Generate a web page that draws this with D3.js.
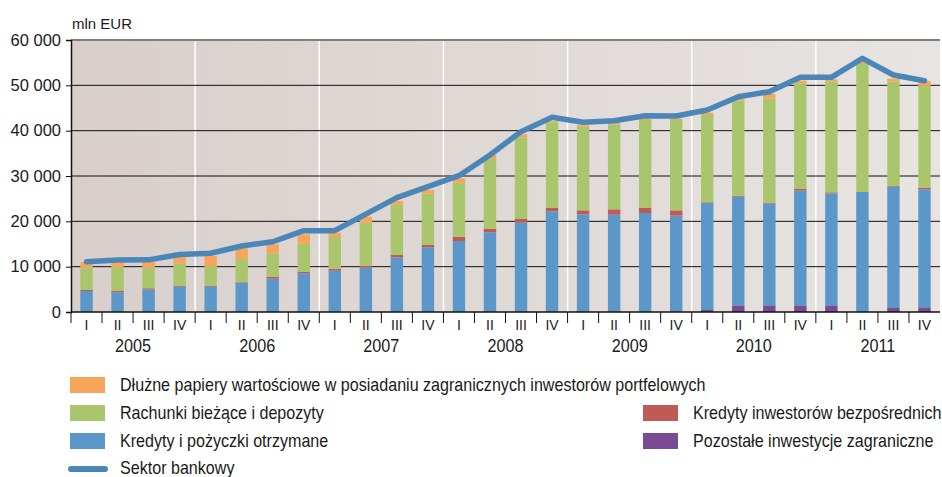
<!DOCTYPE html>
<html>
<head>
<meta charset="utf-8">
<script src="https://cdn.jsdelivr.net/npm/d3@7"></script>
<style>
  body { margin: 0; background: #fff; }
  text { font-family: "Liberation Sans", Arial, sans-serif; fill: #1a1a1a; }
</style>
</head>
<body>
<div class="canvas"></div>
<script>
const years = ['2005', '2006', '2007', '2008', '2009', '2010', '2011'];
const quarters = ['I', 'II', 'III', 'IV'];
const yTicks = [0, 10000, 20000, 30000, 40000, 50000, 60000];

// mln EUR, 2005 I .. 2011 IV
const pozostale = [0, 0, 0, 0, 0, 0, 0, 0, 0, 0, 0, 0, 0, 0, 0, 0, 0, 0, 0, 0,
  440, 1470, 1470, 1470, 1470, 0, 880, 880];
const kredytyPozyczki = [4630, 4340, 5000, 5590, 5590, 6400, 7350, 8540, 9110, 9780, 12060, 14270,
  15660, 17580, 19700, 22210, 21550, 21470, 21840, 21250, 23610, 23970, 22430, 25300, 24700, 26470, 26770, 26180];
const kredytyInwestorow = [220, 290, 230, 210, 210, 150, 440, 360, 440, 440, 510, 510,
  890, 800, 820, 800, 880, 1180, 1170, 1180, 150, 220, 220, 360, 230, 0, 150, 370];
const rachunki = [4930, 5150, 4550, 4940, 4350, 5150, 5160, 6170, 7000, 9480, 11100, 11320,
  11970, 15370, 17930, 18840, 18450, 18750, 19340, 19920, 19260, 20950, 22940, 23320, 24420, 28230, 23020, 22430];
const dluzne = [1220, 1320, 1320, 1460, 2200, 2350, 1980, 2070, 940, 1330, 820, 810,
  970, 880, 750, 250, 370, 370, 250, 300, 510, 380, 1030, 590, 510, 450, 660, 1110];
const sektorBankowy = [11100, 11450, 11500, 12700, 12950, 14560, 15500, 17940, 17940, 21600, 25220, 27650,
  30070, 34640, 39780, 42950, 41840, 42200, 43300, 43240, 44560, 47500, 48600, 51770, 51770, 55960, 52280, 51000];

const seriesNames = ['Pozostałe inwestycje zagraniczne', 'Kredyty i pożyczki otrzymane',
  'Kredyty inwestorów bezpośrednich', 'Rachunki bieżące i depozyty',
  'Dłużne papiery wartościowe w posiadaniu zagranicznych inwestorów portfelowych'];
const seriesValues = [pozostale, kredytyPozyczki, kredytyInwestorow, rachunki, dluzne];
const colors = ['#7a4a93', '#5b97c9', '#be5b56', '#aac66d', '#f7a55a'];
const lineName = 'Sektor bankowy';
const lineColor = '#4a86b8';

const periods = [];
years.forEach(y => quarters.forEach(q => periods.push(y + ' ' + q)));

const table = periods.map((p, i) => {
  const row = {period: p};
  seriesNames.forEach((n, k) => row[n] = seriesValues[k][i]);
  return row;
});

const width = 942, height = 477;
const margin = {top: 40, right: 2, bottom: 165, left: 71};
const plotW = width - margin.left - margin.right;
const plotH = height - margin.top - margin.bottom;

const svg = d3.select('.canvas')
  .append('svg')
  .attr('width', width)
  .attr('height', height);

const defs = svg.append('defs');
const grad = defs.append('linearGradient').attr('id', 'bg').attr('x1', 0).attr('x2', 1).attr('y1', 0).attr('y2', 0);
grad.append('stop').attr('offset', 0).attr('stop-color', '#d8cfcb');
grad.append('stop').attr('offset', 1).attr('stop-color', '#e7e4e2');

const g = svg.append('g').attr('transform', `translate(${margin.left},${margin.top})`);

const x = d3.scaleBand()
  .domain(periods)
  .range([0, plotW])
  .paddingInner(0.6)
  .paddingOuter(0.3);

const y = d3.scaleLinear()
  .domain([0, 60000])
  .range([plotH, 0]);

const step = x.step();
const bandLeft = p => x(p) - x.paddingInner() * step / 2;

g.append('rect')
  .attr('width', plotW)
  .attr('height', plotH)
  .attr('fill', 'url(#bg)');

// year separators
g.selectAll('.sep')
  .data(years.slice(1))
  .enter()
  .append('line')
  .attr('x1', d => bandLeft(d + ' I'))
  .attr('x2', d => bandLeft(d + ' I'))
  .attr('y1', 0)
  .attr('y2', plotH)
  .attr('stroke', '#fff')
  .attr('stroke-width', 1.5);

// gridlines
g.selectAll('.grid')
  .data(yTicks.slice(1, -1))
  .enter()
  .append('line')
  .attr('x1', 0)
  .attr('x2', plotW)
  .attr('y1', d => y(d))
  .attr('y2', d => y(d))
  .attr('stroke', '#111')
  .attr('stroke-width', 1);

g.append('line')
  .attr('x1', 0).attr('x2', plotW)
  .attr('y1', y(60000)).attr('y2', y(60000))
  .attr('stroke', '#7f7f7f').attr('stroke-width', 2);

const stacked = d3.stack().keys(seriesNames)(table);

g.selectAll('.layer')
  .data(stacked)
  .enter()
  .append('g')
  .attr('fill', (d, i) => colors[i])
  .selectAll('rect')
  .data(d => d)
  .enter()
  .append('rect')
  .attr('x', d => x(d.data.period))
  .attr('width', x.bandwidth())
  .attr('y', d => y(d[1]))
  .attr('height', d => y(d[0]) - y(d[1]));

const line = d3.line()
  .x((d, i) => x(periods[i]) + x.bandwidth() / 2)
  .y(d => y(d));

g.append('path')
  .datum(sektorBankowy)
  .attr('d', line)
  .attr('fill', 'none')
  .attr('stroke', lineColor)
  .attr('stroke-width', 5.5)
  .attr('stroke-linejoin', 'round')
  .attr('stroke-linecap', 'round');

// y axis
const yAxis = g.append('g')
  .call(d3.axisLeft(y).tickValues(yTicks).tickSize(5).tickPadding(5)
    .tickFormat(d => d3.format(',')(d).replace(/,/g, ' ')));
yAxis.select('.domain').attr('stroke', '#111').attr('stroke-width', 1.5);
yAxis.selectAll('.tick line').attr('stroke', '#111');
yAxis.selectAll('text')
  .style('font-family', '"Liberation Sans", Arial, sans-serif')
  .style('font-size', '16.5px')
  .attr('fill', '#1a1a1a');

// x axis baseline and ticks between quarters
g.append('line')
  .attr('x1', 0).attr('x2', plotW)
  .attr('y1', plotH).attr('y2', plotH)
  .attr('stroke', '#111').attr('stroke-width', 1.5);

g.selectAll('.qtick')
  .data(periods)
  .enter()
  .append('line')
  .attr('x1', d => bandLeft(d))
  .attr('x2', d => bandLeft(d))
  .attr('y1', plotH)
  .attr('y2', plotH + 11)
  .attr('stroke', '#111')
  .attr('stroke-width', 1);

g.selectAll('.qlabel')
  .data(periods)
  .enter()
  .append('text')
  .attr('x', d => x(d) + x.bandwidth() / 2)
  .attr('y', plotH + 18)
  .attr('text-anchor', 'middle')
  .style('font-size', '14px')
  .text(d => d.split(' ')[1]);

g.selectAll('.ylabel')
  .data(years)
  .enter()
  .append('text')
  .attr('transform', d => `translate(${(bandLeft(d + ' I') + bandLeft(d + ' IV') + step) / 2},${plotH + 40}) scale(0.9,1)`)
  .attr('text-anchor', 'middle')
  .style('font-size', '18px')
  .text(d => d);

svg.append('text')
  .attr('x', 72)
  .attr('y', 29)
  .style('font-size', '15px')
  .text('mln EUR');

// legend
const legendItems = [
  {name: seriesNames[4], color: colors[4], x: 70, y: 385},
  {name: seriesNames[3], color: colors[3], x: 70, y: 413},
  {name: seriesNames[1], color: colors[1], x: 70, y: 441},
  {name: seriesNames[2], color: colors[2], x: 643, y: 413},
  {name: seriesNames[0], color: colors[0], x: 643, y: 441}
];

const legend = svg.selectAll('.legend')
  .data(legendItems)
  .enter()
  .append('g')
  .attr('transform', d => `translate(${d.x},${d.y})`);

legend.append('rect')
  .attr('x', 0).attr('y', -8)
  .attr('width', 35).attr('height', 16)
  .attr('fill', d => d.color);

legend.append('text')
  .attr('transform', 'translate(50,6) scale(0.92,1)')
  .style('font-size', '17.5px')
  .text(d => d.name);

svg.append('line')
  .attr('x1', 71).attr('x2', 105)
  .attr('y1', 469).attr('y2', 469)
  .attr('stroke', lineColor)
  .attr('stroke-width', 6)
  .attr('stroke-linecap', 'round');

svg.append('text')
  .attr('transform', 'translate(120,474) scale(0.92,1)')
  .style('font-size', '17.5px')
  .text(lineName);
</script>
</body>
</html>
